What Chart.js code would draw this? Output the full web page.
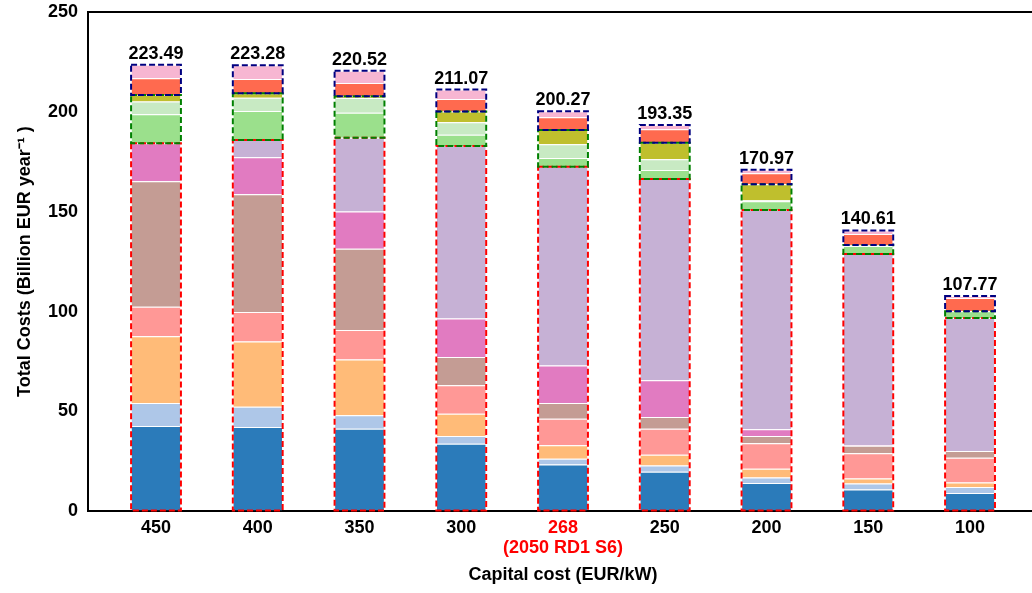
<!DOCTYPE html>
<html>
<head>
<meta charset="utf-8">
<script src="https://cdn.jsdelivr.net/npm/chart.js@4/dist/chart.umd.min.js"></script>
<style>
  html, body { margin: 0; padding: 0; background: #fff; overflow: hidden; }
  #wrap { width: 1038px; height: 593px; }
</style>
</head>
<body>
<div id="wrap"><canvas id="c" width="1038" height="593"></canvas></div>
<script>
// Capital cost cases (EUR/kW); the 268 case is the reference scenario
const categories = ['450', '400', '350', '300', ['268', '(2050 RD1 S6)'], '250', '200', '150', '100'];
const highlightIndex = 4;

// Stack totals (Billion EUR / year)
const totals = [223.49, 223.28, 220.52, 211.07, 200.27, 193.35, 170.97, 140.61, 107.77];

// Cost components, bottom to top
const compA = [42.7, 42.2, 41.4, 33.9, 23.5, 19.9, 14.2, 11.0, 9.2];
const compB = [11.6, 10.2, 6.7, 3.8, 2.9, 3.1, 2.8, 2.9, 3.0];
const compC = [33.4, 32.6, 27.9, 11.2, 6.7, 5.4, 4.4, 2.6, 2.2];
const compD = [14.7, 14.8, 14.8, 14.2, 13.3, 13.0, 12.7, 12.6, 12.5];
const compE = [62.8, 58.9, 40.6, 14.2, 7.9, 5.9, 3.6, 3.7, 3.3];
const compF = [19.0, 18.5, 18.7, 19.2, 18.7, 18.3, 3.4, 0.3, 0];
const compG = [0, 8.7, 36.9, 86.4, 99.5, 100.7, 109.7, 95.7, 66.6];
const compH = [14.5, 14.5, 12.5, 5.6, 4.4, 4.5, 4.4, 4.0, 3.4];
const compI = [6.4, 6.6, 7.4, 6.2, 6.8, 5.4, 0.5, 0.5, 0];
const compJ = [3.3, 2.2, 0.8, 5.4, 7.2, 8.3, 8.0, 0, 0];
const compK = [8.4, 7.2, 6.7, 6.3, 6.3, 6.7, 5.5, 5.5, 6.6];
const compL = [6.69, 6.88, 6.12, 4.67, 3.07, 2.15, 1.77, 1.81, 0.97];

const yTicks = [0, 50, 100, 150, 200, 250];

const series = [
  { label: 'Component A', data: compA, color: '#2b7bba' },
  { label: 'Component B', data: compB, color: '#aec7e8' },
  { label: 'Component C', data: compC, color: '#ffbb78' },
  { label: 'Component D', data: compD, color: '#ff9896' },
  { label: 'Component E', data: compE, color: '#c49c94' },
  { label: 'Component F', data: compF, color: '#e17bc1' },
  { label: 'Component G', data: compG, color: '#c6b1d5' },
  { label: 'Component H', data: compH, color: '#9be08c' },
  { label: 'Component I', data: compI, color: '#c8eac3' },
  { label: 'Component J', data: compJ, color: '#bfbf2d' },
  { label: 'Component K', data: compK, color: '#ff6a4f' },
  { label: 'Component L', data: compL, color: '#f7b6d2' }
];

// Dataset index ranges outlined with dashed boxes
const groups = [
  { from: 0, to: 6, color: '#ff0000' },
  { from: 7, to: 9, color: '#008000' },
  { from: 10, to: 11, color: '#000080' }
];

const FONT = "'Liberation Sans', Arial, sans-serif";
const FS = 18;

const groupBoxes = {
  id: 'groupBoxes',
  afterDatasetsDraw(chart) {
    const ctx = chart.ctx;
    const yScale = chart.scales.y;
    const n = categories.length;
    ctx.save();
    ctx.lineWidth = 2;
    ctx.setLineDash([6, 3]);
    for (let i = 0; i < n; i++) {
      for (const g of groups) {
        const lo = chart.getDatasetMeta(g.from).data[i];
        const hi = chart.getDatasetMeta(g.to).data[i];
        const bottom = lo.base;
        const top = hi.y;
        if (Math.abs(bottom - top) < 0.5) continue;
        const half = lo.width / 2 + 0.5;
        ctx.strokeStyle = g.color;
        ctx.strokeRect(lo.x - half, top, half * 2, bottom - top);
      }
    }
    ctx.setLineDash([]);
    ctx.fillStyle = '#000';
    ctx.font = 'bold ' + FS + 'px ' + FONT;
    ctx.textAlign = 'center';
    ctx.textBaseline = 'alphabetic';
    for (let i = 0; i < n; i++) {
      const x = chart.getDatasetMeta(0).data[i].x;
      const y = yScale.getPixelForValue(totals[i]);
      ctx.fillText(totals[i].toFixed(2), x, y - 6);
    }
    ctx.restore();
  }
};

new Chart(document.getElementById('c'), {
  type: 'bar',
  data: {
    labels: categories,
    datasets: series.map(s => ({
      label: s.label,
      data: s.data,
      backgroundColor: s.color,
      borderColor: 'rgba(255,255,255,0.85)',
      borderWidth: { top: 1, bottom: 0, left: 0, right: 0 },
      borderSkipped: false,
      barPercentage: 0.48,
      categoryPercentage: 1
    }))
  },
  options: {
    responsive: false,
    devicePixelRatio: 1,
    animation: false,
    layout: { padding: { left: 0, right: 0, top: 0, bottom: 3 } },
    plugins: { legend: { display: false }, tooltip: { enabled: false } },
    scales: {
      x: {
        stacked: true,
        afterBuildTicks(scale) {
          // a little extra room either side of the outer bars
          scale._startValue = -0.668;
          scale._valueRange = categories.length - 1 + 2 * 0.668;
        },
        grid: { display: false, drawTicks: false },
        border: { display: true, color: '#000', width: 2 },
        ticks: {
          padding: 7,
          maxRotation: 0,
          autoSkip: false,
          font: { family: FONT, size: FS, weight: 'bold', lineHeight: 1.1 },
          color: ctx => ctx.index === highlightIndex ? '#ff0000' : '#000'
        },
        title: {
          display: true,
          text: 'Capital cost (EUR/kW)',
          color: '#000',
          font: { family: FONT, size: FS, weight: 'bold', lineHeight: 1 },
          padding: { top: 1, bottom: 6 }
        }
      },
      y: {
        stacked: true,
        min: yTicks[0],
        max: yTicks[yTicks.length - 1],
        afterBuildTicks(scale) {
          scale.ticks = yTicks.map(v => ({ value: v }));
        },
        grid: {
          display: true,
          drawTicks: false,
          lineWidth: 2,
          color: ctx => (ctx.tick && ctx.tick.value === yTicks[yTicks.length - 1]) ? '#000' : 'rgba(0,0,0,0)'
        },
        border: { display: true, color: '#000', width: 2 },
        ticks: {
          padding: 10,
          color: '#000',
          font: { family: FONT, size: FS, weight: 'bold', lineHeight: 0.2 }
        },
        title: {
          display: true,
          text: 'Total Costs (Billion EUR year\u207B\u00B9 )',
          color: '#000',
          font: { family: FONT, size: FS, weight: 'bold', lineHeight: 1.2 },
          padding: { top: 14.2, bottom: 2.2 }
        }
      }
    }
  },
  plugins: [groupBoxes]
});
</script>
</body>
</html>
